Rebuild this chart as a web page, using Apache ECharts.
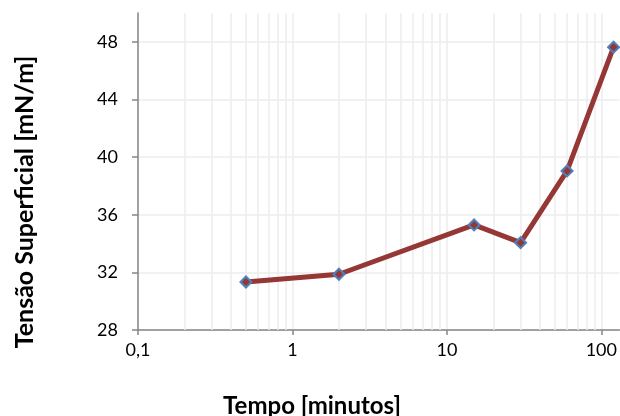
<!DOCTYPE html>
<html><head><meta charset="utf-8">
<script src="https://cdn.jsdelivr.net/npm/echarts@6/dist/echarts.min.js"></script>
<style>html,body{margin:0;padding:0;background:#fff}#c{width:620px;height:416px}</style>
</head><body><div id="c"></div>
<script>
const times = [0.5, 2, 15, 30, 60, 120];
const tension = [31.33, 31.87, 35.29, 34.06, 39.04, 47.63];
const xTicks = [0.1, 1, 10, 100];
const xMinorGrid = [0.2,0.3,0.4,0.5,0.6,0.7,0.8,0.9,2,3,4,5,6,7,8,9,20,30,40,50,60,70,80,90];
const yTicks = [28, 32, 36, 40, 44, 48];
const xTitle = 'Tempo [minutos]';
const yTitle = 'Tensão Superficial [mN/m]';

const font = 'Lato';
const chart = echarts.init(document.getElementById('c'));
chart.setOption({
  animation: false,
  backgroundColor: '#fff',
  grid: {left: 138, right: 0, top: 13, bottom: 86, containLabel: false},
  graphic: [
    {type: 'text', x: 312, y: 397 + 9, silent: true,
     style: {text: xTitle, font: 'bold 24px Lato', fill: '#000', textAlign: 'center', textVerticalAlign: 'middle'}},
    {type: 'text', x: 25, y: 202, rotation: Math.PI / 2, silent: true,
     style: {text: yTitle, font: 'bold 25px Lato', fill: '#000', textAlign: 'center', textVerticalAlign: 'middle'}}
  ],
  xAxis: {
    type: 'log', logBase: 10, min: 0.1, max: 131,
    axisLine: {show: true, lineStyle: {color: '#868686', width: 1.5}},
    axisTick: {show: true, length: 5, lineStyle: {color: '#868686', width: 1.5}, customValues: xTicks},
    axisLabel: {fontFamily: font, fontSize: 18, color: '#000', margin: 11, customValues: xTicks,
      formatter: v => String(v).replace('.', ',')},
    splitLine: {show: true, lineStyle: {color: '#ececec', width: 1.5}},
    minorTick: {show: false}, minorSplitLine: {show: false}
  },
  yAxis: {
    type: 'value', min: 28, max: 50, interval: 4,
    axisLine: {show: true, lineStyle: {color: '#868686', width: 1.5}},
    axisTick: {show: true, length: 6, lineStyle: {color: '#868686', width: 1.5}, customValues: yTicks},
    axisLabel: {fontFamily: font, fontSize: 18, color: '#000', margin: 20, customValues: yTicks},
    splitLine: {show: true, lineStyle: {color: '#ececec', width: 1.5}}
  },
  series: [
    {
      type: 'line', data: [], z: 1, silent: true,
      markLine: {
        z: 1, silent: true, symbol: 'none', label: {show: false}, animation: false,
        lineStyle: {color: '#ececec', width: 1.5, type: 'solid'},
        emphasis: {disabled: true},
        data: xMinorGrid.map(v => ({xAxis: v}))
      }
    },
    {
      type: 'line', z: 3,
      data: times.map((t, i) => [t, tension[i]]),
      lineStyle: {color: '#953735', width: 5},
      symbol: 'diamond', symbolSize: 11,
      itemStyle: {color: '#953735', borderColor: '#4f81bd', borderWidth: 2}
    }
  ]
});
</script></body></html>
